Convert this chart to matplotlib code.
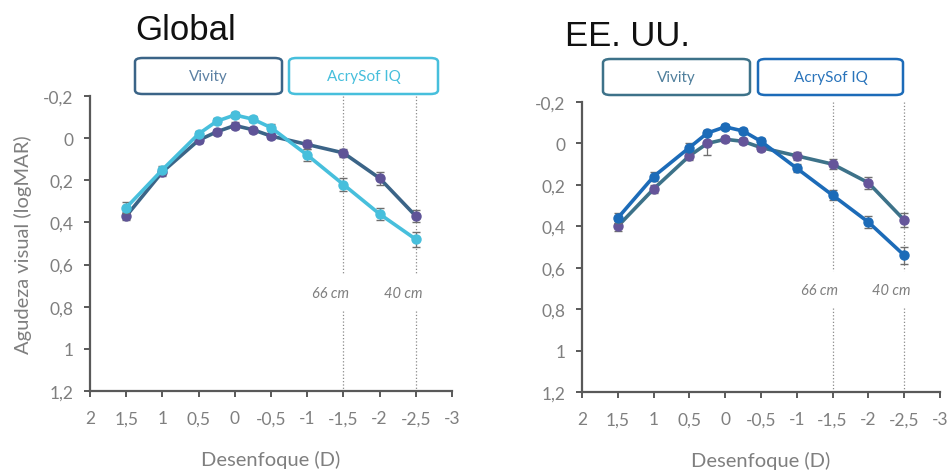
import matplotlib
matplotlib.use("Agg")
import matplotlib.pyplot as plt
from matplotlib.patches import FancyBboxPatch

# defocus steps (D)
defocus = [1.5, 1, 0.5, 0.25, 0, -0.25, -0.5, -1, -1.5, -2, -2.5]

# Global cohort (logMAR)
glob_vivity = [0.37, 0.16, 0.01, -0.03, -0.06, -0.04, -0.01, 0.03, 0.07, 0.19, 0.37]
glob_vivity_err = [0.02, 0.02, 0.015, 0.015, 0.015, 0.015, 0.015, 0.02, 0.02, 0.03, 0.03]
glob_acrysof = [0.33, 0.15, -0.02, -0.08, -0.11, -0.09, -0.05, 0.08, 0.22, 0.36, 0.48]
glob_acrysof_err = [0.025, 0.02, 0.015, 0.015, 0.015, 0.015, 0.015, 0.03, 0.03, 0.03, 0.035]

# EE. UU. cohort (logMAR)
us_vivity = [0.40, 0.22, 0.06, 0.0, -0.02, -0.01, 0.02, 0.06, 0.10, 0.19, 0.37]
us_vivity_err = [0.025, 0.02, 0.02, 0.055, 0.015, 0.015, 0.015, 0.02, 0.025, 0.03, 0.035]
us_acrysof = [0.36, 0.16, 0.02, -0.05, -0.08, -0.06, -0.01, 0.12, 0.25, 0.38, 0.54]
us_acrysof_err = [0.025, 0.02, 0.02, 0.015, 0.015, 0.015, 0.015, 0.02, 0.025, 0.03, 0.04]

x_ticks = [2, 1.5, 1, 0.5, 0, -0.5, -1, -1.5, -2, -2.5, -3]
y_ticks = [-0.2, 0, 0.2, 0.4, 0.6, 0.8, 1, 1.2]
near_marks = [(-1.5, "66 cm"), (-2.5, "40 cm")]

TXT = "#7f7f7f"
AX = "#595959"
W, H = 950, 477


def fmt(v):
    s = f"{v:g}".replace(".", ",")
    return "0" if s == "-0" else s


def fig_box(fig, x0, y0, x1, y1, edge, label, tcol):
    # pixel coords (top-left origin) -> figure fraction
    fx, fy = x0 / W, 1 - y1 / H
    fw, fh = (x1 - x0) / W, (y1 - y0) / H
    box = FancyBboxPatch((fx, fy), fw, fh, boxstyle="round,pad=0,rounding_size=0.008",
                         transform=fig.transFigure, facecolor="white",
                         edgecolor=edge, linewidth=1.8)
    fig.patches.append(box)
    fig.text(fx + fw / 2, fy + fh / 2, label, ha="center", va="center",
             color=tcol, fontsize=11, family="Lato")


def panel(ax, viv, viv_err, acr, acr_err, c_viv, c_viv_mk, c_acr, label_y, gap):
    for y, e, c, mk, z in [(viv, viv_err, c_viv, c_viv_mk, 3), (acr, acr_err, c_acr, c_acr, 4)]:
        ax.errorbar(defocus, y, yerr=e, fmt="none", ecolor="#6f6f6f",
                    elinewidth=0.9, capsize=3, zorder=z)
        ax.plot(defocus, y, color=c, lw=2.6, marker="o", ms=6.5,
                mfc=mk, mec=mk, zorder=z + 0.5)
    for xm, lab in near_marks:
        ax.vlines(xm, -0.2, gap[0], colors="#8a8a8a", linestyles=":", lw=0.9, zorder=1)
        ax.vlines(xm, gap[1], 1.2, colors="#8a8a8a", linestyles=":", lw=0.9, zorder=1)
        ax.text(xm + 0.18, label_y, lab, ha="center", va="center", style="italic",
                color=TXT, fontsize=10.5, family="Lato")
    ax.set_xlim(2, -3)
    ax.set_ylim(1.2, -0.2)
    ax.set_xticks(x_ticks)
    ax.set_xticklabels([fmt(v) for v in x_ticks])
    ax.set_yticks(y_ticks)
    ax.set_yticklabels([fmt(v) for v in y_ticks])
    for s in ["top", "right"]:
        ax.spines[s].set_visible(False)
    for s in ["left", "bottom"]:
        ax.spines[s].set_color(AX)
        ax.spines[s].set_linewidth(1.6)
    ax.tick_params(colors=AX, labelcolor=TXT, labelsize=12.5, width=1.4, length=4,
                   direction="out")
    ax.tick_params(axis="x", pad=10)
    ax.tick_params(axis="y", pad=8)
    for t in ax.get_xticklabels() + ax.get_yticklabels():
        t.set_family("Lato")
    ax.set_xlabel("Desenfoque (D)", color=TXT, fontsize=14.5, family="Lato", labelpad=17)


fig = plt.figure(figsize=(9.5, 4.77), dpi=100)
ax1 = fig.add_axes([90 / W, 1 - 392 / H, 362 / W, 295 / H])
ax2 = fig.add_axes([582 / W, 1 - 393 / H, 358 / W, 290 / H])

panel(ax1, glob_vivity, glob_vivity_err, glob_acrysof, glob_acrysof_err,
      "#3b6487", "#5e5397", "#47bfdc", 0.733, (0.64, 0.82))
panel(ax2, us_vivity, us_vivity_err, us_acrysof, us_acrysof_err,
      "#3d7289", "#65559a", "#1c6bb8", 0.707, (0.615, 0.795))

ax1.set_ylabel("Agudeza visual (logMAR)", color=TXT, fontsize=14.5, family="Lato", labelpad=8)

fig.text(186 / W, 1 - 30 / H, "Global", ha="center", va="center",
         fontsize=25, family="Liberation Sans", color="#111111")
fig.text(627 / W, 1 - 36 / H, "EE. UU.", ha="center", va="center",
         fontsize=25, family="Liberation Sans", color="#111111")

fig_box(fig, 135, 59, 282, 95, "#3b6487", "Vivity", "#5b80a3")
fig_box(fig, 289, 59, 438, 95, "#47bfdc", "AcrySof IQ", "#47bfdc")
fig_box(fig, 603, 60, 750, 96, "#3d7289", "Vivity", "#4f7f9c")
fig_box(fig, 758, 60, 903, 96, "#1c6bb8", "AcrySof IQ", "#2a74bb")

fig.savefig("out.png", dpi=100)
